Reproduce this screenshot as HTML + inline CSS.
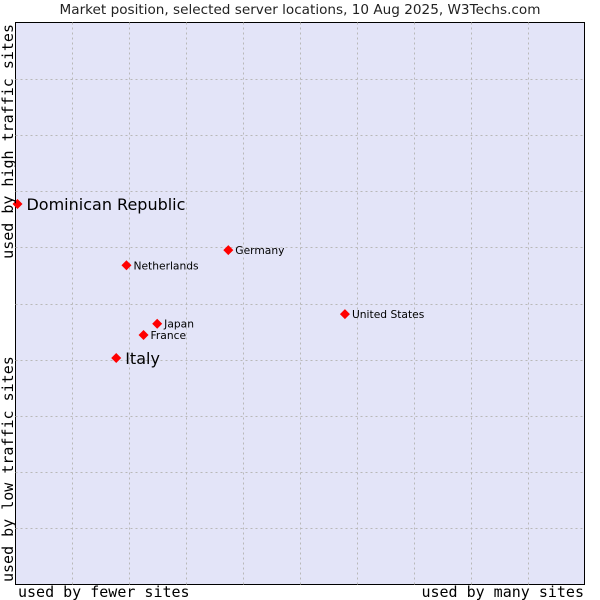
<!DOCTYPE html>
<html><head><meta charset="utf-8"><style>
body{margin:0;background:#fff;width:600px;height:600px;overflow:hidden}
svg{display:block}
</style></head><body>
<svg id="chart" width="600" height="600" xmlns="http://www.w3.org/2000/svg">
<text x="300" y="14" text-anchor="middle" font-family="DejaVu Sans, sans-serif" font-size="13.6" fill="#222">Market position, selected server locations, 10 Aug 2025, W3Techs.com</text>
<rect x="15.5" y="22.5" width="569" height="562" fill="#e3e4f8" stroke="#000" stroke-width="1"/>
<g id="grid"></g>
<g id="marks"></g>
<text x="18" y="597" font-family="DejaVu Sans Mono, Liberation Mono, monospace" font-size="15" fill="#000">used by fewer sites</text>
<text x="584" y="597" text-anchor="end" font-family="DejaVu Sans Mono, Liberation Mono, monospace" font-size="15" fill="#000">used by many sites</text>
<text transform="translate(13,24) rotate(-90)" text-anchor="end" font-family="DejaVu Sans Mono, Liberation Mono, monospace" font-size="15" fill="#000">used by high traffic sites</text>
<text transform="translate(13,582) rotate(-90)" font-family="DejaVu Sans Mono, Liberation Mono, monospace" font-size="15" fill="#000">used by low traffic sites</text>
</svg>
<script>
const countries=["Dominican Republic","Germany","Netherlands","United States","Japan","France","Italy"];
const xValues=[0.35,37.4,19.5,57.9,24.9,22.5,17.7];
const yValues=[67.7,59.5,56.8,48.1,46.4,44.4,40.3];
const highlighted=[true,false,false,false,false,false,true];
const X0=15.5,X1=584.5,Y0=584.5,Y1=22.5;
function sx(v){return X0+(X1-X0)*v/100;}
function sy(v){return Y0-(Y0-Y1)*v/100;}
const NS="http://www.w3.org/2000/svg";
const grid=document.getElementById('grid');
for(let i=1;i<10;i++){
  const vl=document.createElementNS(NS,'line');
  
  
  const x=Math.round(sx(i*10))+0.5;
  vl.setAttribute('x1',x);vl.setAttribute('x2',x);vl.setAttribute('y1',Y1);vl.setAttribute('y2',Y0);
  vl.setAttribute('stroke','#b8b8b8');vl.setAttribute('stroke-dasharray','2,3');
  grid.appendChild(vl);
  const hl=document.createElementNS(NS,'line');
  
  
  const y=Math.round(sy(i*10))+0.5;
  hl.setAttribute('x1',X0);hl.setAttribute('x2',X1);hl.setAttribute('y1',y);hl.setAttribute('y2',y);
  hl.setAttribute('stroke','#b8b8b8');hl.setAttribute('stroke-dasharray','2,3');
  grid.appendChild(hl);
}
const marks=document.getElementById('marks');
countries.forEach((c,i)=>{
  const x=sx(xValues[i]),y=sy(yValues[i]);
  const p=document.createElementNS(NS,'path');
  
  
  p.setAttribute('d',`M${x-5},${y} L${x},${y-5} L${x+5},${y} L${x},${y+5} Z`);
  p.setAttribute('fill','#f00');
  marks.appendChild(p);
  const t=document.createElementNS(NS,'text');
  
  
  const big=highlighted[i];
  t.setAttribute('x',x+(big?9:7));
  t.setAttribute('y',y+(big?6:4));
  t.setAttribute('font-family','DejaVu Sans, sans-serif');
  t.setAttribute('font-size',big?16:10.7);
  t.setAttribute('fill','#000');
  t.textContent=c;
  marks.appendChild(t);
});
</script>
</body></html>
